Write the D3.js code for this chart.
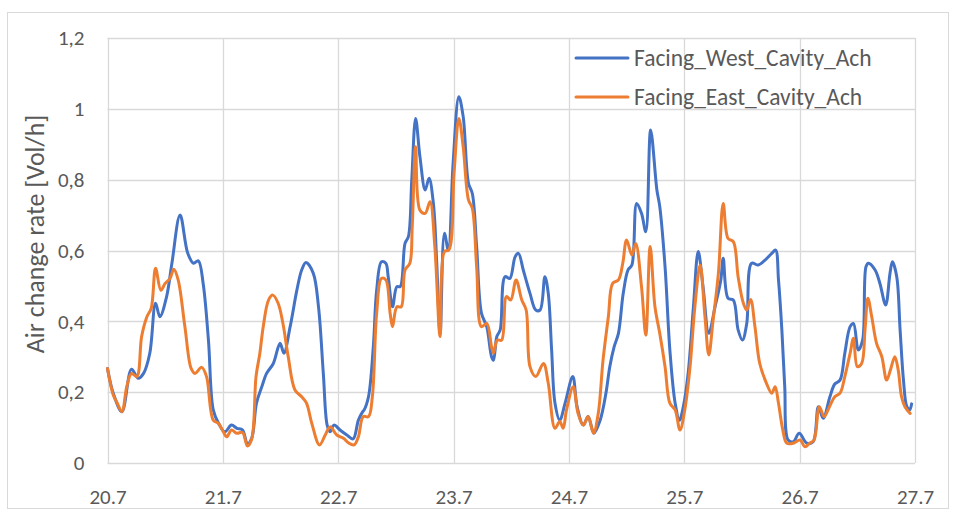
<!DOCTYPE html>
<html>
<head>
<meta charset="utf-8">
<script src="https://cdn.jsdelivr.net/npm/d3@7"></script>
<style>
  html, body { margin: 0; padding: 0; background: #fff; }
  svg { display: block; }
  text { font-family: Calibri, Carlito, Lato, "Open Sans", sans-serif; fill: #595959; }
</style>
</head>
<body>
<svg id="chart" width="956" height="514"></svg>
<script>
// ---- data (hours since 20.7 00:00, air change rate) ----
const tickLabels = ["20.7", "21.7", "22.7", "23.7", "24.7", "25.7", "26.7", "27.7"];
const yTicks = [0, 0.2, 0.4, 0.6, 0.8, 1, 1.2];
const seriesNames = ["Facing_West_Cavity_Ach", "Facing_East_Cavity_Ach"];

const westHours = [0,1.2,3.0,5.0,6.4,7.5,8.8,10.0,10.9,12.3,13.4,15.1,16.7,17.9,18.9,19.9,21.0,22.0,23.1,24.4,25.8,26.9,28.1,29.1,30.0,31.0,32.1,33.1,34.5,35.9,36.7,38.0,39.4,40.4,41.3,42.8,43.9,44.9,45.7,46.3,47.1,48.4,49.8,51.1,52.2,53.1,53.4,54.3,55.3,56.0,57.0,57.9,58.4,59.3,60.2,60.9,61.9,62.6,63.3,64.1,65.0,66.1,66.9,67.8,68.5,69.2,70.1,70.9,71.9,73.1,74.0,75.1,75.9,76.8,77.8,78.9,79.9,80.3,81.0,81.7,82.7,83.7,84.8,85.5,86.5,87.9,89.1,90.0,91.0,91.7,92.4,93.1,94.1,95.2,96.8,97.7,99.0,100.0,101.2,102.5,103.7,104.5,105.4,106.3,107.3,108.3,109.1,110.1,111.1,112.0,113.0,114.3,114.9,116.0,117.0,118.1,119.0,119.8,120.8,121.9,122.9,123.9,125.1,126.4,127.6,128.1,129.1,130.2,131.2,132.1,133.0,134.0,135.4,136.8,138.2,139.0,139.6,140.3,140.9,141.6,142.7,143.9,145.5,146.8,147.9,148.9,150.3,151.3,152.4,153.4,154.5,155.2,156.2,157.1,157.8,158.3,159.7,160.7,161.9,162.8,163.3,164.2,164.9,165.6,166.3,166.9,167.3];
const westValues = [0.267,0.197,0.145,0.265,0.239,0.253,0.310,0.451,0.413,0.470,0.564,0.700,0.592,0.564,0.571,0.507,0.347,0.150,0.112,0.088,0.107,0.098,0.093,0.054,0.070,0.169,0.215,0.253,0.281,0.338,0.310,0.385,0.488,0.545,0.566,0.536,0.441,0.253,0.107,0.088,0.107,0.093,0.079,0.068,0.121,0.145,0.150,0.187,0.328,0.488,0.568,0.564,0.526,0.441,0.498,0.498,0.620,0.639,0.799,0.973,0.865,0.771,0.804,0.733,0.564,0.366,0.649,0.601,0.846,1.034,0.978,0.790,0.761,0.611,0.423,0.385,0.300,0.290,0.357,0.376,0.526,0.521,0.582,0.592,0.545,0.479,0.432,0.432,0.526,0.479,0.319,0.169,0.121,0.169,0.244,0.159,0.107,0.131,0.084,0.121,0.197,0.272,0.328,0.366,0.479,0.545,0.559,0.733,0.705,0.653,0.940,0.771,0.724,0.554,0.319,0.169,0.121,0.159,0.253,0.441,0.597,0.498,0.366,0.441,0.517,0.578,0.465,0.460,0.376,0.347,0.394,0.564,0.559,0.573,0.592,0.601,0.517,0.376,0.215,0.065,0.060,0.084,0.056,0.060,0.159,0.126,0.187,0.223,0.234,0.310,0.385,0.394,0.319,0.347,0.554,0.564,0.545,0.507,0.446,0.536,0.568,0.526,0.376,0.234,0.159,0.150,0.167];

const eastHours = [0,1.2,1.9,3.0,4.0,5.0,6.1,7.1,8.2,9.1,10.0,11.1,12.0,13.0,13.8,14.7,16.1,17.4,18.2,19.6,20.6,22.0,23.1,24.1,24.8,25.8,26.9,28.1,29.1,30.0,30.9,31.7,32.4,33.5,34.4,35.5,36.5,37.6,39.0,40.4,41.4,42.5,44.1,45.3,46.3,47.7,49.1,50.1,51.3,52.2,53.2,54.3,55.1,56.0,57.0,57.9,58.8,59.3,60.2,61.1,61.9,62.9,63.4,64.1,65.0,66.1,67.1,68.1,69.2,70.1,71.0,72.1,73.1,74.0,75.1,75.9,76.8,77.8,78.9,79.9,80.3,81.1,82.0,83.0,83.9,85.0,86.2,87.1,87.9,89.1,90.7,91.7,93.1,94.1,94.8,95.5,96.9,97.9,99.0,100.0,101.1,102.1,103.1,104.2,105.1,106.3,107.2,108.0,109.1,109.9,111.1,112.0,112.9,113.9,114.9,116.0,117.0,118.1,119.1,120.1,121.2,122.2,123.3,124.3,125.1,126.0,127.1,128.1,129.1,130.2,131.2,132.3,133.0,133.8,134.7,135.7,137.1,138.2,138.9,139.6,140.5,141.3,142.7,144.1,145.1,146.1,147.0,148.1,149.1,150.2,151.3,152.4,153.4,154.5,155.2,156.0,156.9,157.6,158.2,159.0,160.0,161.1,162.1,162.9,163.8,164.5,165.2,165.9,167.0];
const eastValues = [0.267,0.192,0.173,0.145,0.215,0.253,0.244,0.357,0.413,0.437,0.550,0.488,0.507,0.521,0.547,0.517,0.385,0.267,0.253,0.270,0.244,0.121,0.112,0.088,0.074,0.093,0.084,0.086,0.048,0.067,0.244,0.310,0.385,0.460,0.474,0.451,0.394,0.300,0.206,0.187,0.169,0.112,0.051,0.079,0.102,0.079,0.070,0.057,0.051,0.074,0.131,0.131,0.187,0.423,0.521,0.517,0.423,0.385,0.441,0.441,0.545,0.564,0.667,0.893,0.714,0.705,0.738,0.611,0.357,0.597,0.601,0.818,0.973,0.893,0.743,0.719,0.554,0.385,0.394,0.328,0.310,0.347,0.347,0.470,0.460,0.517,0.460,0.432,0.272,0.244,0.281,0.225,0.098,0.117,0.098,0.150,0.215,0.140,0.107,0.131,0.084,0.140,0.291,0.413,0.507,0.517,0.564,0.630,0.587,0.620,0.498,0.361,0.611,0.441,0.366,0.272,0.169,0.150,0.093,0.150,0.272,0.441,0.559,0.413,0.305,0.404,0.536,0.733,0.634,0.625,0.526,0.451,0.432,0.462,0.385,0.281,0.225,0.197,0.215,0.169,0.093,0.056,0.056,0.065,0.046,0.056,0.065,0.159,0.131,0.159,0.187,0.197,0.244,0.310,0.352,0.272,0.281,0.376,0.465,0.413,0.338,0.300,0.234,0.263,0.300,0.263,0.187,0.159,0.140];

// ---- layout ----
const svg = d3.select("#chart");
const L = 107.5, R = 915, T = 38, B = 463;
const colors = ["#4472C4", "#ED7D31"];
const FONT = "Calibri, Carlito, Lato, 'Open Sans', sans-serif";

svg.append("rect").attr("x", 7.5).attr("y", 12.5).attr("width", 941).attr("height", 496)
  .attr("fill", "#fff").attr("stroke", "#d9d9d9").attr("stroke-width", 1);

const x = d3.scaleLinear().domain([0, 168]).range([L, R]);
const y = d3.scaleLinear().domain([0, 1.2]).range([B, T]);

// gridlines
const grid = svg.append("g").attr("stroke", "#d9d9d9").attr("stroke-width", 1.3);
yTicks.forEach(v => grid.append("line").attr("x1", L).attr("x2", R)
  .attr("y1", Math.round(y(v)) + 0.5).attr("y2", Math.round(y(v)) + 0.5));
tickLabels.forEach((t, i) => grid.append("line")
  .attr("x1", Math.round(x(i * 24)) + 0.5).attr("x2", Math.round(x(i * 24)) + 0.5)
  .attr("y1", T).attr("y2", B));

// axes
const fmt = v => String(v).replace(".", ",");
const yAxis = d3.axisLeft(y).tickValues(yTicks).tickFormat(fmt).tickSize(0).tickPadding(23);
const gy = svg.append("g").attr("transform", `translate(${L},0)`).call(yAxis);
gy.select(".domain").remove();
gy.selectAll("text").attr("font-size", 21).style("fill", "#595959").style("font-family", FONT);

const xAxis = d3.axisBottom(x).tickValues(tickLabels.map((t, i) => i * 24))
  .tickFormat((d, i) => tickLabels[i]).tickSize(0).tickPadding(26);
const gx = svg.append("g").attr("transform", `translate(0,${B})`).call(xAxis);
gx.select(".domain").remove();
gx.selectAll("text").attr("font-size", 21).style("fill", "#595959").style("font-family", FONT);

svg.append("text").attr("transform", "translate(44,234) rotate(-90)")
  .attr("text-anchor", "middle").attr("font-size", 26).text("Air change rate [Vol/h]");

// lines
const line = d3.line().x(d => x(d[0])).y(d => y(d[1])).curve(d3.curveCatmullRom.alpha(0.5));
const series = [
  d3.zip(westHours, westValues),
  d3.zip(eastHours, eastValues)
];
series.forEach((s, i) => {
  svg.append("path").datum(s).attr("d", line).attr("fill", "none")
    .attr("stroke", colors[i]).attr("stroke-width", 3).attr("stroke-linejoin", "round")
    .attr("stroke-linecap", "round");
});

// legend
seriesNames.forEach((n, i) => {
  const ly = 58 + i * 39;
  svg.append("line").attr("x1", 576).attr("x2", 628).attr("y1", ly).attr("y2", ly)
    .attr("stroke", colors[i]).attr("stroke-width", 3).attr("stroke-linecap", "round");
  svg.append("text").attr("x", 634).attr("y", ly + 8).attr("font-size", 23.5).text(n);
});
</script>
</body>
</html>
